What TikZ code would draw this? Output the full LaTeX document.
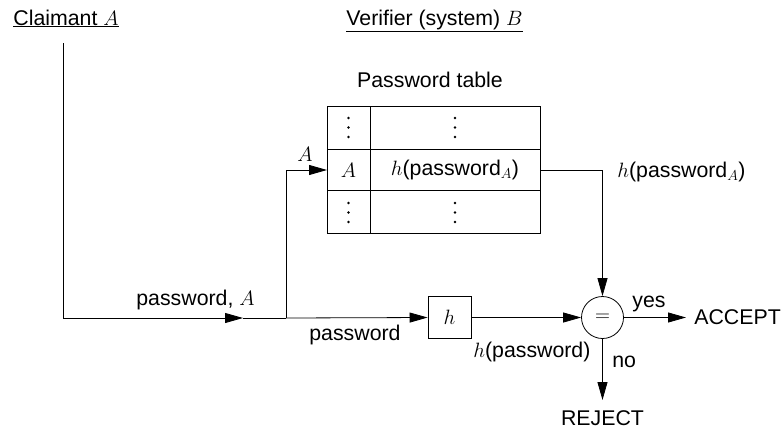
\documentclass[tikz,border=0pt]{standalone}
\usepackage{fontspec}
\setmainfont{Liberation Sans}
\usetikzlibrary{arrows.meta}
\begin{document}
\begin{tikzpicture}[x=1pt,y=-1pt,
  font=\fontsize{21.3}{25}\selectfont,
  line width=0.8pt,
  arr/.style={-{Triangle[length=18pt,width=10pt]}},
  lbl/.style={inner sep=0pt},
  cell/.style={inner sep=0pt},
  vdot/.style={fill=black}]
\useasboundingbox (0,0) rectangle (782,429);
% headings
\node[lbl,anchor=base west] (claimant) at (13,25) {\underline{Claimant $A$}};
\node[lbl,anchor=base west] (verifier) at (346,25) {\underline{Verifier (system) $B$}};
\node[lbl,anchor=base] (ptitle) at (430,87) {Password table};
% table
\node[draw,minimum width=213pt,minimum height=127pt,inner sep=0pt] (tbl) at (433.5,169.5) {};
\draw (370,106) -- (370,233);
\draw (327,149) -- (540,149);
\draw (327,190) -- (540,190);
\foreach \cx in {348.5,455}{
  \foreach \cy in {118,127.5,137,203,212.5,222}{
    \fill[vdot] (\cx,\cy) circle (1.4pt);
  }
}
\node[cell] (c21) at (348.5,170) {$A$};
\node[cell] (c22) at (455,170) {$h$(password$_A$)};
\coordinate (rowAw) at (327,170);
\coordinate (rowAe) at (540,170);
% flow
\coordinate (start) at (63,43);
\coordinate (mid1) at (243,318);
\coordinate (branch) at (286,318);
\node[draw,minimum width=43pt,minimum height=42pt,inner sep=0pt] (hbox) at (449.5,317.5) {$h$};
\node[draw,circle,minimum size=42pt,inner sep=0pt] (eq) at (602.5,317.5) {$=$};
\node[anchor=west,inner xsep=8pt,inner ysep=0pt] (accept) at (686,317.5) {ACCEPT};
\node[anchor=north,inner ysep=10pt,inner xsep=0pt] (reject) at (602.5,400) {REJECT};
\draw[arr] (start) |- (mid1);
\draw (mid1) -- (branch);
\draw[arr] (branch) |- (rowAw);
\draw[arr] (branch) -- (hbox.west);
\draw[arr] (hbox.east) -- (eq.west);
\draw[arr] (rowAe) -| (eq.north);
\draw[arr] (eq.east) -- (accept.west);
\draw[arr] (eq.south) -- (reject.north);
% labels
\node[lbl,anchor=base west] (lpwa) at (136,305) {password, $A$};
\node[lbl,anchor=base west] (lA) at (297,161) {$A$};
\node[lbl,anchor=base west] (lpw) at (309,340) {password};
\node[lbl,anchor=base west] (lhpw) at (473,357) {$h$(password)};
\node[lbl,anchor=base west] (lhpwA) at (617,177) {$h$(password$_A$)};
\node[lbl,anchor=base west] (lyes) at (632,307) {yes};
\node[lbl,anchor=base west] (lno) at (612,367) {no};
\end{tikzpicture}
\end{document}
